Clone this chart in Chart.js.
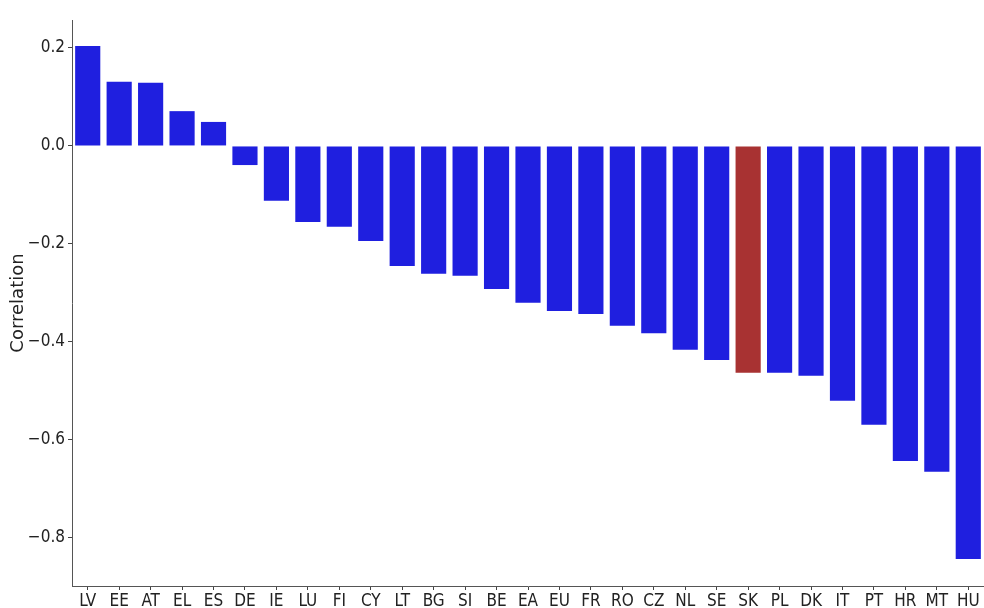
<!DOCTYPE html>
<html>
  <head>
    <script src="https://cdn.jsdelivr.net/npm/chart.js"></script>
    <title>Correlation</title>
    <style>
      body { margin: 0; background-color: white; }
      #wrap { width: 984px; height: 608px; }
    </style>
  </head>
  <body>
    <div id="wrap"><canvas id="myChart" width="984" height="608"></canvas></div>
    <script>
      // countries, sorted by correlation
      var countries = ['LV', 'EE', 'AT', 'EL', 'ES', 'DE', 'IE', 'LU', 'FI', 'CY', 'LT', 'BG', 'SI', 'BE', 'EA',
                       'EU', 'FR', 'RO', 'CZ', 'NL', 'SE', 'SK', 'PL', 'DK', 'IT', 'PT', 'HR', 'MT', 'HU'];
      var correlations = [0.204, 0.131, 0.129, 0.071, 0.049, -0.039, -0.112, -0.155, -0.165, -0.194, -0.245, -0.261, -0.265, -0.292, -0.320,
                          -0.337, -0.343, -0.367, -0.382, -0.416, -0.437, -0.463, -0.463, -0.469, -0.520, -0.569, -0.643, -0.665, -0.843];
      var highlight = 'SK';
      var yTicks = [0.2, 0.0, -0.2, -0.4, -0.6, -0.8];

      var barColors = countries.map(function(c) {
        return c === highlight ? '#a83232' : '#1f1fdf';
      });

      var tickFont = { family: '"DejaVu Sans Condensed", "DejaVu Sans", sans-serif', size: 17 };

      var ctx = document.getElementById('myChart').getContext('2d');
      var chart = new Chart(ctx, {
        type: 'bar',
        data: {
          labels: countries,
          datasets: [{
            label: 'Correlation',
            data: correlations,
            backgroundColor: barColors,
            borderWidth: 0,
            categoryPercentage: 0.8,
            barPercentage: 1.0
          }]
        },
        options: {
          responsive: false,
          animation: false,
          layout: { padding: { top: 20, right: 0, left: 0, bottom: 0 } },
          plugins: {
            legend: { display: false },
            tooltip: { enabled: false }
          },
          scales: {
            x: {
              grid: { display: true, offset: false, drawOnChartArea: false, drawTicks: true, tickLength: 4, color: '#444' },
              border: { color: '#555', width: 1 },
              ticks: {
                color: '#222',
                padding: 1,
                maxRotation: 0,
                autoSkip: false,
                font: tickFont
              },
              afterFit: function(scale) { scale.height = 22; }
            },
            y: {
              min: -0.898,
              max: 0.257,
              grid: { display: true, drawOnChartArea: false, drawTicks: true, tickLength: 4, color: '#444' },
              border: { color: '#555', width: 1 },
              afterBuildTicks: function(scale) {
                scale.ticks = yTicks.map(function(v) { return { value: v }; });
              },
              ticks: {
                color: '#222',
                padding: 3,
                font: tickFont,
                callback: function(v) {
                  var s = Math.abs(v).toFixed(1);
                  return v < -1e-9 ? '\u2212' + s : s;
                }
              },
              title: {
                display: true,
                text: 'Correlation',
                color: '#222',
                padding: { top: 8, bottom: 0 },
                font: { family: 'DejaVu Sans', size: 18 }
              },
              afterFit: function(scale) { scale.width = 72; }
            }
          }
        }
      });
    </script>
  </body>
</html>
